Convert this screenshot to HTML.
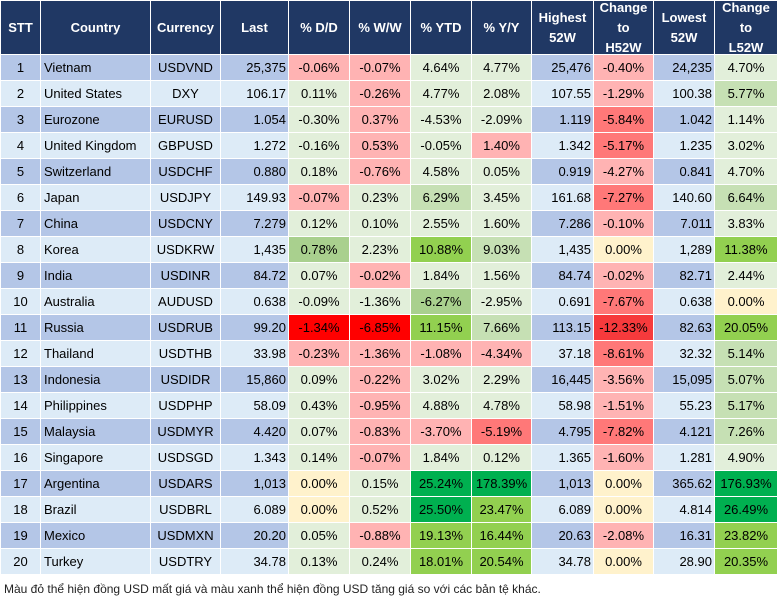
<!DOCTYPE html>
<html><head><meta charset="utf-8"><style>
body{margin:0;width:777px;height:602px;background:#fff;font-family:"Liberation Sans",Arial,sans-serif;position:relative;overflow:hidden}
.c{position:absolute;box-sizing:border-box;font-size:13px;color:#000;display:flex;align-items:center;white-space:nowrap}
.h{background:#203864;color:#fff;font-weight:bold;justify-content:center;text-align:center;line-height:20px;font-size:13px}
.cap{position:absolute;left:4px;top:582px;font-size:12px;color:#222}
</style></head><body>
<div id="t"></div>
<div class="cap">Màu đỏ thể hiện đồng USD mất giá và màu xanh thể hiện đồng USD tăng giá so với các bản tệ khác.</div>
<script>
const headers=["STT","Country","Currency","Last","% D/D","% W/W","% YTD","% Y/Y","Highest<br>52W","Change<br>to<br>H52W","Lowest<br>52W","Change<br>to<br>L52W"];
const countries=["Vietnam","United States","Eurozone","United Kingdom","Switzerland","Japan","China","Korea","India","Australia","Russia","Thailand","Indonesia","Philippines","Malaysia","Singapore","Argentina","Brazil","Mexico","Turkey"];
const currencies=["USDVND","DXY","EURUSD","GBPUSD","USDCHF","USDJPY","USDCNY","USDKRW","USDINR","AUDUSD","USDRUB","USDTHB","USDIDR","USDPHP","USDMYR","USDSGD","USDARS","USDBRL","USDMXN","USDTRY"];
const last=["25,375","106.17","1.054","1.272","0.880","149.93","7.279","1,435","84.72","0.638","99.20","33.98","15,860","58.09","4.420","1.343","1,013","6.089","20.20","34.78"];
const dd=["-0.06%","0.11%","-0.30%","-0.16%","0.18%","-0.07%","0.12%","0.78%","0.07%","-0.09%","-1.34%","-0.23%","0.09%","0.43%","0.07%","0.14%","0.00%","0.00%","0.05%","0.13%"];
const ww=["-0.07%","-0.26%","0.37%","0.53%","-0.76%","0.23%","0.10%","2.23%","-0.02%","-1.36%","-6.85%","-1.36%","-0.22%","-0.95%","-0.83%","-0.07%","0.15%","0.52%","-0.88%","0.24%"];
const ytd=["4.64%","4.77%","-4.53%","-0.05%","4.58%","6.29%","2.55%","10.88%","1.84%","-6.27%","11.15%","-1.08%","3.02%","4.88%","-3.70%","1.84%","25.24%","25.50%","19.13%","18.01%"];
const yy=["4.77%","2.08%","-2.09%","1.40%","0.05%","3.45%","1.60%","9.03%","1.56%","-2.95%","7.66%","-4.34%","2.29%","4.78%","-5.19%","0.12%","178.39%","23.47%","16.44%","20.54%"];
const high=["25,476","107.55","1.119","1.342","0.919","161.68","7.286","1,435","84.74","0.691","113.15","37.18","16,445","58.98","4.795","1.365","1,013","6.089","20.63","34.78"];
const chH=["-0.40%","-1.29%","-5.84%","-5.17%","-4.27%","-7.27%","-0.10%","0.00%","-0.02%","-7.67%","-12.33%","-8.61%","-3.56%","-1.51%","-7.82%","-1.60%","0.00%","0.00%","-2.08%","0.00%"];
const low=["24,235","100.38","1.042","1.235","0.841","140.60","7.011","1,289","82.71","0.638","82.63","32.32","15,095","55.23","4.121","1.281","365.62","4.814","16.31","28.90"];
const chL=["4.70%","5.77%","1.14%","3.02%","4.70%","6.64%","3.83%","11.38%","2.44%","0.00%","20.05%","5.14%","5.07%","5.17%","7.26%","4.90%","176.93%","26.49%","23.82%","20.35%"];
// color codes per row for D/D, W/W, YTD, Y/Y, chH, chL
const colorCodes=["ppvvpv","vpvvpl","vpvvmv","vpvpmv","vpvvpv","pvlvml","vvvvpv","Lvglyg","vpvvpv","vvLvmy","rrglRg","ppppml","vpvvpl","vpvvpl","vppmml","vpvvpv","yvddyd","yvdgyd","vpggpg","vvggyg"];
const pal={p:"#ffb3b3",m:"#ff7878",r:"#ff0000",R:"#f63a3c",y:"#fff2cc",v:"#e2efda",l:"#c6e0b4",L:"#a9d08e",g:"#92d050",d:"#00b050"};
const edges=[0,40,150,220,288,349,410,471,531,593,653,714,777];
const names=["stt","country","currency","last","pct-dd","pct-ww","pct-ytd","pct-yy","highest-52w","change-to-h52w","lowest-52w","change-to-l52w"];
const t=document.getElementById('t');
function cell(ci,top,h,html,bg,cls,align,name){
  const d=document.createElement('div');
  d.className='c '+cls;
  d.style.left=(edges[ci]+1)+'px';
  d.style.width=(edges[ci+1]-edges[ci]-1)+'px';
  d.style.top=top+'px';d.style.height=h+'px';
  if(bg)d.style.background=bg;
  d.style.justifyContent=align;
  if(align==='flex-start')d.style.paddingLeft='3px';
  if(align==='flex-end')d.style.paddingRight='2px';
  d.innerHTML=html;
  
  
  t.appendChild(d);
}
headers.forEach((h,i)=>cell(i,1,53,h,null,'h','center','header-'+names[i]));
for(let r=0;r<20;r++){
  const top=55+26*r, band=r%2===0?"#b4c6e7":"#ddebf7", cc=colorCodes[r];
  const vals=[String(r+1),countries[r],currencies[r],last[r],dd[r],ww[r],ytd[r],yy[r],high[r],chH[r],low[r],chL[r]];
  const bgs=[band,band,band,band,pal[cc[0]],pal[cc[1]],pal[cc[2]],pal[cc[3]],band,pal[cc[4]],band,pal[cc[5]]];
  const al=['center','flex-start','center','flex-end','center','center','center','center','flex-end','center','flex-end','center'];
  vals.forEach((v,i)=>cell(i,top,25,v,bgs[i],'',al[i],'row'+(r+1)+'-'+names[i]));
}
</script>
</body></html>
